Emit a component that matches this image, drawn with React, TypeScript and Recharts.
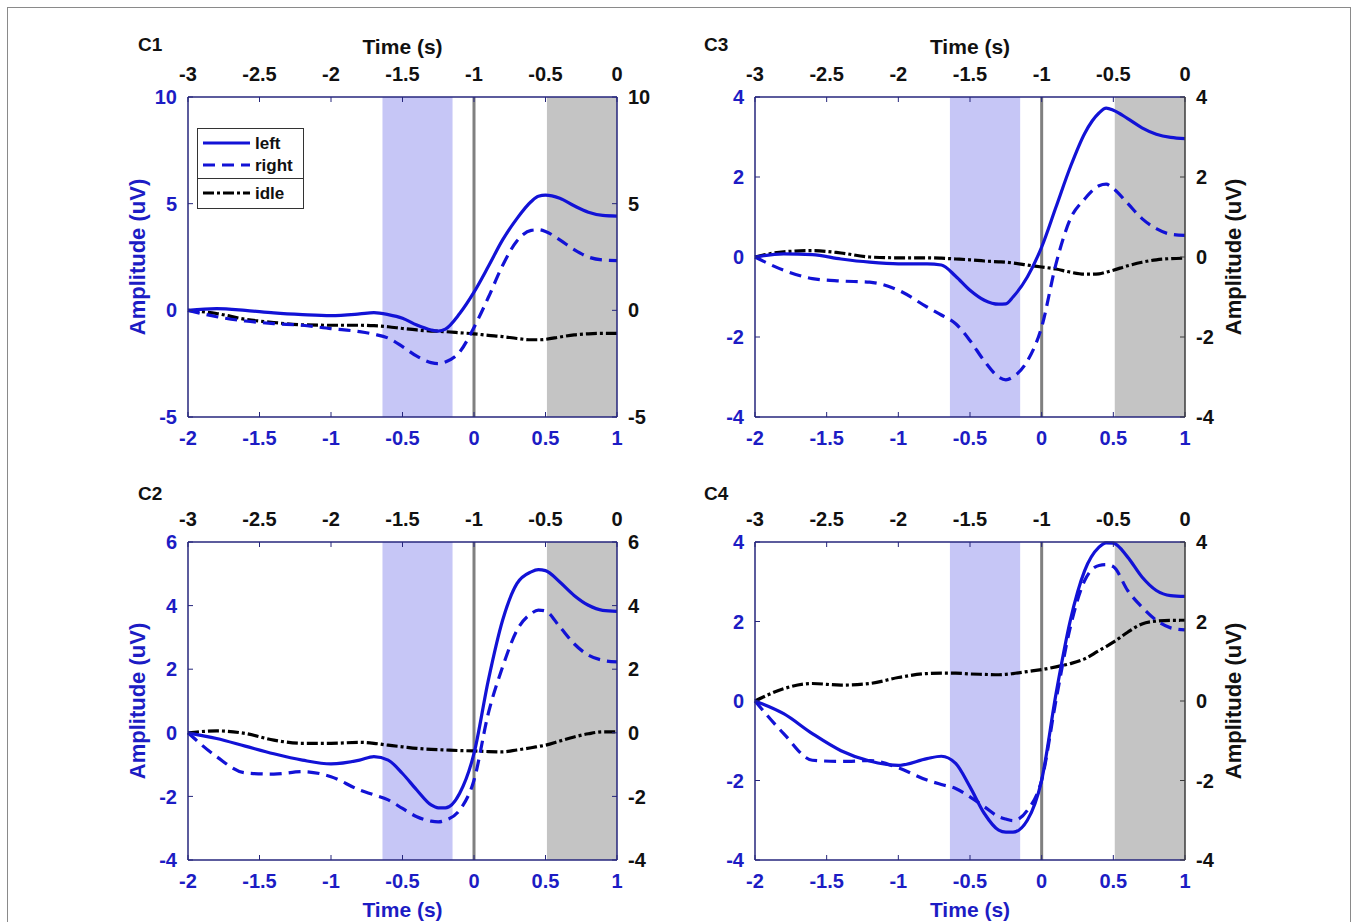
import React from 'react';
import { LineChart, Line, XAxis, YAxis, ReferenceArea, ReferenceLine, Legend } from 'recharts';

// ---------- data ----------
const T = [-2, -1.8, -1.6, -1.4, -1.2, -1, -0.8, -0.7, -0.6, -0.5, -0.4, -0.3, -0.25, -0.2, -0.1, 0, 0.1, 0.2, 0.3, 0.4, 0.45, 0.5, 0.6, 0.7, 0.8, 0.9, 1];

const C1_LEFT = [0, 0.08, 0.0, -0.12, -0.2, -0.25, -0.17, -0.11, -0.2, -0.37, -0.69, -0.92, -0.97, -0.88, -0.15, 0.85, 2.05, 3.3, 4.3, 5.1, 5.35, 5.4, 5.25, 4.9, 4.6, 4.45, 4.42];
const C1_RIGHT = [0, -0.3, -0.5, -0.62, -0.7, -0.86, -1.0, -1.12, -1.3, -1.7, -2.15, -2.45, -2.5, -2.42, -1.95, -0.8, 0.6, 2.1, 3.25, 3.75, 3.78, 3.7, 3.3, 2.85, 2.5, 2.36, 2.33];
const C1_IDLE = [0, -0.15, -0.42, -0.57, -0.68, -0.7, -0.7, -0.72, -0.77, -0.85, -0.92, -0.97, -0.98, -1.0, -1.05, -1.1, -1.17, -1.23, -1.32, -1.38, -1.38, -1.36, -1.25, -1.15, -1.1, -1.08, -1.08];

const C3_LEFT = [0, 0.08, 0.06, -0.05, -0.13, -0.17, -0.17, -0.2, -0.48, -0.83, -1.08, -1.18, -1.17, -1.0, -0.5, 0.25, 1.25, 2.25, 3.09, 3.6, 3.72, 3.67, 3.46, 3.23, 3.07, 2.99, 2.96];
const C3_RIGHT = [0, -0.33, -0.54, -0.6, -0.63, -0.83, -1.25, -1.45, -1.67, -2.09, -2.6, -3.0, -3.07, -3.0, -2.6, -1.75, -0.17, 0.95, 1.45, 1.78, 1.82, 1.71, 1.34, 0.96, 0.71, 0.57, 0.54];
const C3_IDLE = [0, 0.13, 0.16, 0.1, 0.0, -0.02, -0.02, -0.03, -0.05, -0.07, -0.1, -0.12, -0.13, -0.15, -0.2, -0.25, -0.3, -0.38, -0.43, -0.42, -0.38, -0.33, -0.22, -0.13, -0.07, -0.04, -0.03];

const C2_LEFT = [0, -0.18, -0.42, -0.66, -0.86, -0.98, -0.86, -0.75, -0.86, -1.28, -1.8, -2.27, -2.36, -2.36, -1.9, -0.65, 1.65, 3.54, 4.69, 5.06, 5.13, 5.1, 4.74, 4.32, 4.01, 3.85, 3.82];
const C2_RIGHT = [0, -0.75, -1.26, -1.3, -1.22, -1.38, -1.8, -1.95, -2.11, -2.38, -2.64, -2.78, -2.8, -2.75, -2.43, -1.49, 0.61, 2.07, 3.22, 3.75, 3.86, 3.83, 3.33, 2.8, 2.44, 2.28, 2.23];
const C2_IDLE = [0, 0.06, -0.02, -0.23, -0.33, -0.33, -0.3, -0.33, -0.39, -0.44, -0.49, -0.52, -0.53, -0.54, -0.56, -0.57, -0.59, -0.6, -0.54, -0.47, -0.43, -0.39, -0.26, -0.13, -0.03, 0.03, 0.03];

const C4_LEFT = [0, -0.32, -0.82, -1.25, -1.51, -1.62, -1.45, -1.39, -1.57, -2.16, -2.83, -3.25, -3.3, -3.3, -3.0, -1.99, 0.18, 2.03, 3.28, 3.87, 3.98, 3.97, 3.62, 3.12, 2.78, 2.65, 2.63];
const C4_RIGHT = [0, -0.82, -1.49, -1.52, -1.5, -1.68, -1.99, -2.1, -2.2, -2.41, -2.66, -2.91, -2.97, -3.01, -2.75, -1.99, 0.02, 1.86, 3.03, 3.41, 3.43, 3.38, 2.78, 2.36, 2.03, 1.84, 1.79];
const C4_IDLE = [0, 0.31, 0.44, 0.4, 0.44, 0.59, 0.69, 0.7, 0.7, 0.68, 0.67, 0.66, 0.67, 0.69, 0.74, 0.79, 0.86, 0.94, 1.06, 1.27, 1.37, 1.48, 1.73, 1.94, 2.01, 2.03, 2.03];

const BOTTOM_TICKS = [-2, -1.5, -1, -0.5, 0, 0.5, 1];
const TOP_TICK_LABELS = ['-3', '-2.5', '-2', '-1.5', '-1', '-0.5', '0'];
const Y_TICKS_C1 = [-5, 0, 5, 10];
const Y_TICKS_C2 = [-4, -2, 0, 2, 4, 6];
const Y_TICKS_C34 = [-4, -2, 0, 2, 4];
const MOVE_WINDOW = [-0.64, -0.15];
const REST_WINDOW = [0.51, 1];
const ONSET = 0;
const SERIES_NAMES = ['left', 'right', 'idle'];
const X_TITLE = 'Time (s)';
const Y_TITLE = 'Amplitude (uV)';

// ---------- styles ----------
const FONT = '"Liberation Sans", Arial, Helvetica, sans-serif';
const BLUE = '#1212d6';
const BLUE_TEXT = '#1c1cc4';
const NAVY = '#26267c';
const DARK = '#3c3c3c';
const RIGHT_DASH = '12 7';
const IDLE_DASH = '11 3 3 3';

const panels = [
  { name: 'C1', col: 0, row: 0, left: C1_LEFT, right: C1_RIGHT, idle: C1_IDLE, domain: [-5, 10], ticks: Y_TICKS_C1, legend: true },
  { name: 'C3', col: 1, row: 0, left: C3_LEFT, right: C3_RIGHT, idle: C3_IDLE, domain: [-4, 4], ticks: Y_TICKS_C34, legend: false },
  { name: 'C2', col: 0, row: 1, left: C2_LEFT, right: C2_RIGHT, idle: C2_IDLE, domain: [-4, 6], ticks: Y_TICKS_C2, legend: false },
  { name: 'C4', col: 1, row: 1, left: C4_LEFT, right: C4_RIGHT, idle: C4_IDLE, domain: [-4, 4], ticks: Y_TICKS_C34, legend: false },
];

const CHART_W = 679;
const CHART_H = 461;

const legendStyles = [
  { color: BLUE, dash: undefined as string | undefined },
  { color: BLUE, dash: RIGHT_DASH },
  { color: '#000', dash: IDLE_DASH },
];

const LegendBox = () => {
  const ys = [15, 37, 65];
  return (
    <svg width={108} height={82} style={{ display: 'block' }}>
      <rect x={0.5} y={0.5} width={106} height={80} fill="#fff" stroke="#333" strokeWidth={1} />
      <line x1={0.5} x2={106.5} y1={50.5} y2={50.5} stroke="#333" strokeWidth={1} />
      {SERIES_NAMES.map((n, i) => (
        <g key={n}>
          <line x1={6} x2={53} y1={ys[i]} y2={ys[i]} stroke={legendStyles[i].color} strokeWidth={3} strokeDasharray={legendStyles[i].dash} />
          <text x={58} y={ys[i]} dominantBaseline="central" fontFamily={FONT} fontWeight={700} fontSize={17} fill="#111">{n}</text>
        </g>
      ))}
    </svg>
  );
};

function Panel({ p }: { p: any }) {
  const data = T.map((t, i) => ({ t, left: p.left[i], right: p.right[i], idle: p.idle[i] }));
  const leftCol = p.col === 0;
  const topRow = p.row === 0;
  const margin = {
    top: topRow ? 31 : 15,
    bottom: topRow ? 14 : 4,
    left: leftCol ? 120 : 10,
    right: leftCol ? 22 : 103,
  };
  const tickFontBlue = { fill: BLUE_TEXT, fontSize: 20, fontWeight: 700, fontFamily: FONT };
  const tickFontDark = { fill: '#111', fontSize: 20, fontWeight: 700, fontFamily: FONT };
  const rightAxisColor = leftCol ? NAVY : DARK;
  return (
    <div style={{ position: 'absolute', left: p.col * CHART_W, top: p.row * CHART_H, width: CHART_W, height: CHART_H }}>
      <LineChart width={CHART_W} height={CHART_H} data={data} margin={margin}>
        <ReferenceArea xAxisId="bottom" yAxisId="left" x1={MOVE_WINDOW[0]} x2={MOVE_WINDOW[1]} fill="#c6c6f6" fillOpacity={1} stroke="none" ifOverflow="hidden" />
        <ReferenceArea xAxisId="bottom" yAxisId="left" x1={REST_WINDOW[0]} x2={REST_WINDOW[1]} fill="#c4c4c4" fillOpacity={1} stroke="none" ifOverflow="hidden" />
        <ReferenceLine xAxisId="bottom" yAxisId="left" x={ONSET} stroke="#808080" strokeWidth={3} />
        <XAxis
          xAxisId="bottom" dataKey="t" type="number" orientation="bottom" domain={[-2, 1]} ticks={BOTTOM_TICKS} interval={0}
          height={topRow ? 30 : 58} tickSize={-5} tickMargin={19}
          axisLine={{ stroke: NAVY, strokeWidth: 1.5 }} tickLine={{ stroke: NAVY }} tick={tickFontBlue}
          label={topRow ? undefined : { value: X_TITLE, position: 'insideBottom', offset: 1, fill: BLUE_TEXT, fontSize: 21, fontWeight: 700, fontFamily: FONT }}
        />
        <XAxis
          xAxisId="top" dataKey="t" type="number" orientation="top" domain={[-2, 1]} ticks={BOTTOM_TICKS} interval={0}
          height={66} tickSize={-5} tickMargin={21}
          tickFormatter={(v: number, i: number) => TOP_TICK_LABELS[i]}
          axisLine={{ stroke: NAVY, strokeWidth: 1.5 }} tickLine={{ stroke: NAVY }} tick={tickFontDark}
          label={topRow ? { value: X_TITLE, position: 'insideTop', offset: 8, fill: '#111', fontSize: 21, fontWeight: 700, fontFamily: FONT } : undefined}
        />
        <YAxis
          yAxisId="left" type="number" orientation="left" domain={p.domain} ticks={p.ticks} interval={0}
          width={leftCol ? 68 : 66} tickSize={-5} tickMargin={16}
          axisLine={{ stroke: NAVY, strokeWidth: 1.5 }} tickLine={{ stroke: NAVY }} tick={tickFontBlue}
          label={leftCol ? { value: Y_TITLE, angle: -90, position: 'insideLeft', offset: 17, fill: BLUE_TEXT, fontSize: 22, fontWeight: 700, fontFamily: FONT, style: { textAnchor: 'middle' } } : undefined}
        />
        <YAxis
          yAxisId="right" type="number" orientation="right" domain={p.domain} ticks={p.ticks} interval={0}
          width={leftCol ? 40 : 70} tickSize={-5} tickMargin={16}
          axisLine={{ stroke: rightAxisColor, strokeWidth: 1.5 }} tickLine={{ stroke: rightAxisColor }} tick={tickFontDark}
          label={leftCol ? undefined : { value: Y_TITLE, angle: -90, position: 'insideRight', offset: 22, fill: '#111', fontSize: 22, fontWeight: 700, fontFamily: FONT, style: { textAnchor: 'middle' } }}
        />
        <Line xAxisId="top" yAxisId="right" dataKey="idle" name={SERIES_NAMES[2]} type="monotone" stroke="#000" strokeWidth={3.2} strokeDasharray={IDLE_DASH} dot={false} isAnimationActive={false} />
        <Line xAxisId="bottom" yAxisId="left" dataKey="right" name={SERIES_NAMES[1]} type="monotone" stroke={BLUE} strokeWidth={3.2} strokeDasharray={RIGHT_DASH} dot={false} isAnimationActive={false} />
        <Line xAxisId="bottom" yAxisId="left" dataKey="left" name={SERIES_NAMES[0]} type="monotone" stroke={BLUE} strokeWidth={3.2} dot={false} isAnimationActive={false} />
        {p.legend && (
          <Legend layout="horizontal" verticalAlign="middle" align="center" content={<LegendBox />}
            wrapperStyle={{ position: 'absolute', left: 197, top: 128, width: 108, height: 82 }} />
        )}
      </LineChart>
      <div style={{ position: 'absolute', left: leftCol ? 138 : 25, top: topRow ? 35 : 23, fontFamily: FONT, fontWeight: 700, fontSize: 19, lineHeight: '20px', color: '#111' }}>
        {p.name}
      </div>
    </div>
  );
}

export default function App() {
  return (
    <div style={{ position: 'absolute', left: 0, top: 0, width: 1358, height: 922, overflow: 'hidden', background: '#fff' }}>
      <div style={{ position: 'absolute', left: 7, top: 7, width: 1342, height: 940, border: '1px solid #8a8a8a' }} />
      {panels.map((p) => <Panel key={p.name} p={p} />)}
    </div>
  );
}
